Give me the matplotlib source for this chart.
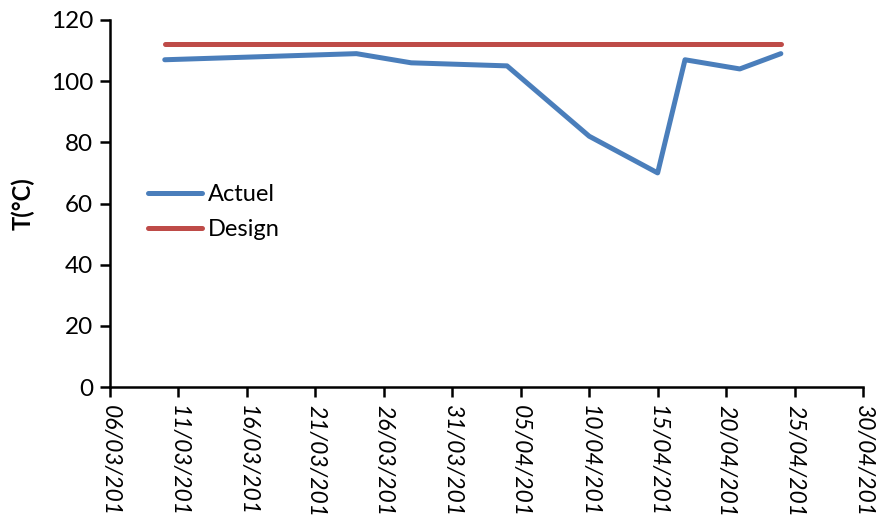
import matplotlib
matplotlib.use("Agg")
import matplotlib.pyplot as plt
from datetime import datetime

plt.rcParams['font.family'] = ['Lato', 'DejaVu Sans']

# Measurement dates and temperatures
dates = ["2013-03-10", "2013-03-24", "2013-03-28", "2013-04-04", "2013-04-10",
         "2013-04-15", "2013-04-17", "2013-04-21", "2013-04-24"]
actuel = [107, 109, 106, 105, 82, 70, 107, 104, 109]
design = [112, 112, 112, 112, 112, 112, 112, 112, 112]

tick_dates = ["2013-03-06", "2013-03-11", "2013-03-16", "2013-03-21", "2013-03-26",
              "2013-03-31", "2013-04-05", "2013-04-10", "2013-04-15", "2013-04-20",
              "2013-04-25", "2013-04-30"]
tick_labels = ["06/03/201", "11/03/201", "16/03/201", "21/03/201", "26/03/201",
               "31/03/201", "05/04/201", "10/04/201", "15/04/201", "20/04/201",
               "25/04/201", "30/04/201"]
y_ticks = [0, 20, 40, 60, 80, 100, 120]

x = [datetime.strptime(d, "%Y-%m-%d") for d in dates]
xt = [datetime.strptime(d, "%Y-%m-%d") for d in tick_dates]

fig = plt.figure(figsize=(8.76, 5.2), dpi=100)
ax = fig.add_axes([110/876, 1-387/520, (863-110)/876, (387-20)/520])

ax.plot(x, actuel, color="#4A7EBB", lw=3.6, solid_capstyle="round",
        solid_joinstyle="round", label="Actuel")
ax.plot(x, design, color="#BE4B48", lw=3.6, solid_capstyle="round",
        solid_joinstyle="round", label="Design")

ax.set_xlim(xt[0], xt[-1])
ax.set_ylim(0, 120)
ax.set_xticks(xt)
ax.set_xticklabels(tick_labels, rotation=-90, ha="center", va="top",
                   fontstyle="italic", fontsize=16.5)
ax.set_yticks(y_ticks)

for s in ("top", "right"):
    ax.spines[s].set_visible(False)
for s in ("left", "bottom"):
    ax.spines[s].set_linewidth(1.8)
ax.tick_params(axis="both", direction="out", length=7, width=1.8,
               colors="black")
ax.tick_params(axis="y", labelsize=17.5, pad=5)
ax.tick_params(axis="x", pad=6)

ax.set_ylabel("T(°C)", fontsize=17, fontweight="bold", labelpad=12)

leg = ax.legend(loc="upper left", bbox_to_anchor=(0.035, 0.585), frameon=False,
                fontsize=17, handlelength=2.3, handletextpad=0.25,
                labelspacing=0.6, borderpad=0.0)

fig.savefig("out.png", dpi=100)
